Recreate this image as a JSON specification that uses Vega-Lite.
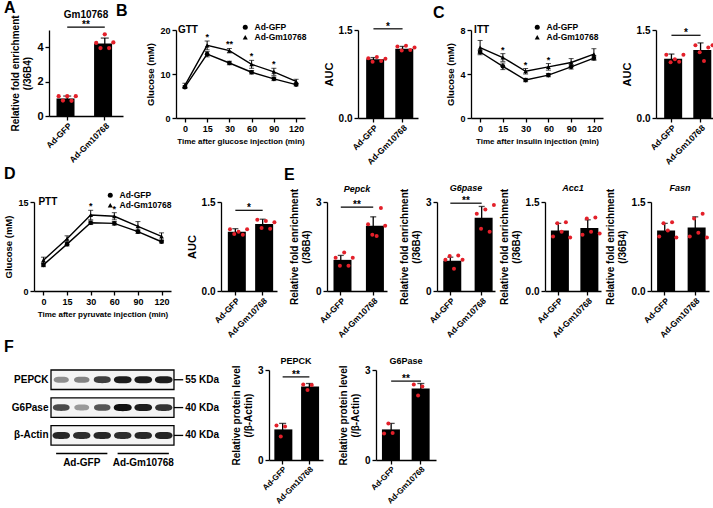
{
"$schema":"https://vega.github.io/schema/vega-lite/v6.json",
"padding":{"left":3,"top":0,"right":0,"bottom":0},
"background":"white",
"config":{
 "font":"Liberation Sans",
 "view":{"stroke":null},
 "axis":{"grid":false,"domainColor":"#000","domainWidth":1.3,"tickColor":"#000","tickWidth":1.3,"tickSize":4,"labelColor":"#000","labelFontWeight":"bold","labelFontSize":10,"labelPadding":2,"titleColor":"#000","titleFontWeight":"bold","titleFontSize":10,"titlePadding":4},
 "title":{"fontSize":16,"fontWeight":"bold","color":"#000","anchor":"start","frame":"group"},
 "legend":{"labelFontWeight":"bold","labelColor":"#000","labelFontSize":8.5}
},
"columns":1,
"align":"none",
"spacing":0,
"resolve":{"scale":{"shape":"independent","size":"independent"},"legend":{"shape":"independent","size":"independent"}},
"concat":[
{"bounds":"flush","spacing":0,
 "resolve":{"scale":{"shape":"independent"},"legend":{"shape":"independent"}},
 "hconcat":[
 {"width":15,"height":1,"data":{"values":[{}]},"mark":{"type":"text","text":""}},
 {"bounds":"flush","spacing":53,
 "resolve":{"scale":{"shape":"independent"},"legend":{"shape":"independent"}},
 "hconcat":[
 {"width":74,"height":86,"title":{"text":"A","dx":-45,"offset":-6},
  "layer":[
   {"data":{"values":[{"g":"Ad-GFP","m":1.02,"lo":0.88,"hi":1.16},{"g":"Ad-Gm10768","m":4.22,"lo":3.91,"hi":4.53}]},
    "encoding":{"x":{"field":"g","type":"nominal","scale":{"domain":["Ad-GFP","Ad-Gm10768"],"paddingInner":0.43,"paddingOuter":0.2},"axis":{"title":null,"labelAngle":-45,"labelAlign":"right","labelBaseline":"top","labelFontSize":8.5,"labelPadding":1}},
     "y":{"field":"m","type":"quantitative","scale":{"domain":[0,5],"nice":false},"axis":{"title":["Relative fold enrichment","(/36B4)"],"values":[0,1,2,3,4,5],"labelFontSize":11}}},
    "layer":[{"mark":{"type":"bar","color":"#000"}},
     {"mark":{"type":"errorbar","ticks":{"size":8},"thickness":1.3,"color":"#000"},"encoding":{"y":{"field":"lo","type":"quantitative"},"y2":{"field":"hi"}}}]},
   {"data":{"values":[{"g":"Ad-GFP","r":"1","v":1.15},{"g":"Ad-GFP","r":"2","v":0.9},{"g":"Ad-GFP","r":"3","v":1.15},{"g":"Ad-GFP","r":"4","v":0.88},{"g":"Ad-GFP","r":"5","v":1.15},{"g":"Ad-Gm10768","r":"1","v":4.25},{"g":"Ad-Gm10768","r":"2","v":3.95},{"g":"Ad-Gm10768","r":"3","v":4.75},{"g":"Ad-Gm10768","r":"4","v":3.95},{"g":"Ad-Gm10768","r":"5","v":4.28}]},
    "mark":{"type":"circle","color":"#e3202a","size":18,"opacity":1},
    "encoding":{"x":{"field":"g","type":"nominal"},"xOffset":{"field":"r","type":"nominal"},"y":{"field":"v","type":"quantitative"}}},
   {"data":{"values":[{}]},"mark":{"type":"rule","strokeWidth":1.2},"encoding":{"x":{"datum":"Ad-GFP"},"x2":{"datum":"Ad-Gm10768"},"y":{"datum":5.17}}},
   {"data":{"values":[{}]},"mark":{"type":"text","text":"**","baseline":"alphabetic","dy":1,"fontSize":10,"fontWeight":"bold"},"encoding":{"y":{"datum":5.17}}},
   {"data":{"values":[{}]},"mark":{"type":"text","text":"Gm10768","baseline":"middle","fontSize":10,"fontWeight":"bold"},"encoding":{"y":{"datum":5.85}}}
  ]},
 {"width":129,"height":88,"title":{"text":"B","dx":-60,"offset":4},
  "data":{"values":[
   {"t":0,"g":"Ad-GFP","m":7.0,"lo":6.7,"hi":7.3},{"t":15,"g":"Ad-GFP","m":14.5,"lo":13.9,"hi":15.1},{"t":30,"g":"Ad-GFP","m":12.5,"lo":12.1,"hi":12.9},{"t":60,"g":"Ad-GFP","m":10.4,"lo":10.0,"hi":10.8},{"t":90,"g":"Ad-GFP","m":8.9,"lo":8.5,"hi":9.3},{"t":120,"g":"Ad-GFP","m":7.6,"lo":7.3,"hi":7.9},
   {"t":0,"g":"Ad-Gm10768","m":7.4,"lo":6.9,"hi":7.9},{"t":15,"g":"Ad-Gm10768","m":16.5,"lo":15.5,"hi":17.5,"s":"*"},{"t":30,"g":"Ad-Gm10768","m":15.3,"lo":14.8,"hi":15.8,"s":"**"},{"t":60,"g":"Ad-Gm10768","m":12.2,"lo":11.3,"hi":13.1,"s":"*"},{"t":90,"g":"Ad-Gm10768","m":10.5,"lo":9.7,"hi":11.3,"s":"*"},{"t":120,"g":"Ad-Gm10768","m":8.3,"lo":7.8,"hi":8.8}]},
  "encoding":{"x":{"field":"t","type":"ordinal","scale":{"type":"point","padding":0.4},"axis":{"title":"Time after glucose injection (min)","labelAngle":0,"labelFontSize":9,"titleFontSize":8}}},
  "layer":[
   {"mark":{"type":"errorbar","ticks":{"size":5},"thickness":1,"color":"#000"},"encoding":{"y":{"field":"lo","type":"quantitative","scale":{"domain":[0,20],"nice":false},"axis":{"title":"Glucose (mM)","values":[0,5,10,15,20],"labelFontSize":9,"titleFontSize":9.5}},"y2":{"field":"hi"}}},
   {"mark":{"type":"line","color":"#000","strokeWidth":1.4},"encoding":{"y":{"field":"m","type":"quantitative"},"detail":{"field":"g"}}},
   {"mark":{"type":"point","filled":true,"color":"#000","size":22,"opacity":1},"encoding":{"y":{"field":"m","type":"quantitative"},"shape":{"field":"g","type":"nominal","scale":{"domain":["Ad-GFP","Ad-Gm10768"],"range":["circle","triangle-up"]},"legend":{"title":null,"orient":"none","legendX":65,"legendY":-7,"symbolSize":25,"rowPadding":-2,"padding":0,"labelOffset":5,"symbolFillColor":"#000","symbolStrokeColor":"#000"}}}},
   {"transform":[{"filter":"datum.s"}],"mark":{"type":"text","baseline":"alphabetic","fontWeight":"bold","fontSize":9,"dy":-1},"encoding":{"y":{"field":"hi","type":"quantitative"},"text":{"field":"s"}}},
   {"data":{"values":[{}]},"mark":{"type":"text","text":"GTT","align":"left","dx":-7,"baseline":"middle","fontWeight":"bold","fontSize":10},"encoding":{"x":{"datum":0,"type":"ordinal"},"y":{"datum":20,"type":"quantitative"}}}
  ]},
 {"width":60,"height":88,
  "layer":[
   {"data":{"values":[{"g":"Ad-GFP","m":1.0,"lo":0.97,"hi":1.03},{"g":"Ad-Gm10768","m":1.18,"lo":1.14,"hi":1.22}]},
    "encoding":{"x":{"field":"g","type":"nominal","scale":{"domain":["Ad-GFP","Ad-Gm10768"],"paddingInner":0.5,"paddingOuter":0.28},"axis":{"title":null,"labelAngle":-45,"labelAlign":"right","labelBaseline":"top","labelFontSize":8.5,"labelPadding":1}},
     "y":{"field":"m","type":"quantitative","scale":{"domain":[0,1.5],"nice":false},"axis":{"title":"AUC","values":[0,0.5,1,1.5],"format":".1f","titleFontSize":11}}},
    "layer":[{"mark":{"type":"bar","color":"#000"}},
     {"mark":{"type":"errorbar","ticks":{"size":6},"thickness":1.3,"color":"#000"},"encoding":{"y":{"field":"lo","type":"quantitative"},"y2":{"field":"hi"}}}]},
   {"data":{"values":[{"g":"Ad-GFP","r":"1","v":1.02},{"g":"Ad-GFP","r":"2","v":0.96},{"g":"Ad-GFP","r":"3","v":1.04},{"g":"Ad-GFP","r":"4","v":0.97},{"g":"Ad-GFP","r":"5","v":1.01},{"g":"Ad-Gm10768","r":"1","v":1.22},{"g":"Ad-Gm10768","r":"2","v":1.15},{"g":"Ad-Gm10768","r":"3","v":1.23},{"g":"Ad-Gm10768","r":"4","v":1.16},{"g":"Ad-Gm10768","r":"5","v":1.2}]},
    "mark":{"type":"circle","color":"#e3202a","size":16,"opacity":1},
    "encoding":{"x":{"field":"g","type":"nominal"},"xOffset":{"field":"r","type":"nominal"},"y":{"field":"v","type":"quantitative"}}},
   {"data":{"values":[{}]},"mark":{"type":"rule","strokeWidth":1.2},"encoding":{"x":{"datum":"Ad-GFP"},"x2":{"datum":"Ad-Gm10768"},"y":{"datum":1.52}}},
   {"data":{"values":[{}]},"mark":{"type":"text","text":"*","baseline":"alphabetic","dy":1,"fontSize":10,"fontWeight":"bold"},"encoding":{"y":{"datum":1.52}}}
  ]},
 {"width":132,"height":88,"title":{"text":"C","dx":-38,"offset":2},
  "data":{"values":[
   {"t":0,"g":"Ad-GFP","m":6.0,"lo":5.85,"hi":6.15},{"t":15,"g":"Ad-GFP","m":4.7,"lo":4.4,"hi":5.0},{"t":30,"g":"Ad-GFP","m":3.45,"lo":3.3,"hi":3.6},{"t":60,"g":"Ad-GFP","m":3.9,"lo":3.75,"hi":4.05},{"t":90,"g":"Ad-GFP","m":4.65,"lo":4.45,"hi":4.85},{"t":120,"g":"Ad-GFP","m":5.45,"lo":5.25,"hi":5.65},
   {"t":0,"g":"Ad-Gm10768","m":6.4,"lo":5.75,"hi":7.05},{"t":15,"g":"Ad-Gm10768","m":5.5,"lo":5.15,"hi":5.85,"s":"*"},{"t":30,"g":"Ad-Gm10768","m":4.25,"lo":4.0,"hi":4.5,"s":"*"},{"t":60,"g":"Ad-Gm10768","m":4.65,"lo":4.35,"hi":4.95,"s":"*"},{"t":90,"g":"Ad-Gm10768","m":5.05,"lo":4.7,"hi":5.4},{"t":120,"g":"Ad-Gm10768","m":5.8,"lo":5.3,"hi":6.3}]},
  "encoding":{"x":{"field":"t","type":"ordinal","scale":{"type":"point","padding":0.4},"axis":{"title":"Time after insulin injection (min)","labelAngle":0,"labelFontSize":9,"titleFontSize":8}}},
  "layer":[
   {"mark":{"type":"errorbar","ticks":{"size":5},"thickness":1,"color":"#000"},"encoding":{"y":{"field":"lo","type":"quantitative","scale":{"domain":[0,8],"nice":false},"axis":{"title":"Glucose (mM)","values":[0,2,4,6,8],"labelFontSize":9,"titleFontSize":9.5}},"y2":{"field":"hi"}}},
   {"mark":{"type":"line","color":"#000","strokeWidth":1.4},"encoding":{"y":{"field":"m","type":"quantitative"},"detail":{"field":"g"}}},
   {"mark":{"type":"point","filled":true,"color":"#000","size":22,"opacity":1},"encoding":{"y":{"field":"m","type":"quantitative"},"shape":{"field":"g","type":"nominal","scale":{"domain":["Ad-GFP","Ad-Gm10768"],"range":["circle","triangle-up"]},"legend":{"title":null,"orient":"none","legendX":62,"legendY":-7,"symbolSize":25,"rowPadding":-2,"padding":0,"labelOffset":5,"symbolFillColor":"#000","symbolStrokeColor":"#000"}}}},
   {"transform":[{"filter":"datum.s"}],"mark":{"type":"text","baseline":"alphabetic","fontWeight":"bold","fontSize":9,"dy":-1},"encoding":{"y":{"field":"hi","type":"quantitative"},"text":{"field":"s"}}},
   {"data":{"values":[{}]},"mark":{"type":"text","text":"ITT","align":"left","dx":-6,"baseline":"middle","fontWeight":"bold","fontSize":10},"encoding":{"x":{"datum":0,"type":"ordinal"},"y":{"datum":8,"type":"quantitative"}}}
  ]},
 {"width":60,"height":88,
  "layer":[
   {"data":{"values":[{"g":"Ad-GFP","m":1.01,"lo":0.93,"hi":1.09},{"g":"Ad-Gm10768","m":1.16,"lo":1.04,"hi":1.28}]},
    "encoding":{"x":{"field":"g","type":"nominal","scale":{"domain":["Ad-GFP","Ad-Gm10768"],"paddingInner":0.5,"paddingOuter":0.28},"axis":{"title":null,"labelAngle":-45,"labelAlign":"right","labelBaseline":"top","labelFontSize":8.5,"labelPadding":1}},
     "y":{"field":"m","type":"quantitative","scale":{"domain":[0,1.5],"nice":false},"axis":{"title":"AUC","values":[0,0.5,1,1.5],"format":".1f","titleFontSize":11}}},
    "layer":[{"mark":{"type":"bar","color":"#000"}},
     {"mark":{"type":"errorbar","ticks":{"size":6},"thickness":1.3,"color":"#000"},"encoding":{"y":{"field":"lo","type":"quantitative"},"y2":{"field":"hi"}}}]},
   {"data":{"values":[{"g":"Ad-GFP","r":"1","v":1.08},{"g":"Ad-GFP","r":"2","v":0.95},{"g":"Ad-GFP","r":"3","v":1.0},{"g":"Ad-GFP","r":"4","v":0.96},{"g":"Ad-GFP","r":"5","v":1.08},{"g":"Ad-Gm10768","r":"1","v":1.24},{"g":"Ad-Gm10768","r":"2","v":1.12},{"g":"Ad-Gm10768","r":"3","v":0.97},{"g":"Ad-Gm10768","r":"4","v":1.2},{"g":"Ad-Gm10768","r":"5","v":1.24}]},
    "mark":{"type":"circle","color":"#e3202a","size":16,"opacity":1},
    "encoding":{"x":{"field":"g","type":"nominal"},"xOffset":{"field":"r","type":"nominal"},"y":{"field":"v","type":"quantitative"}}},
   {"data":{"values":[{}]},"mark":{"type":"rule","strokeWidth":1.2},"encoding":{"x":{"datum":"Ad-GFP"},"x2":{"datum":"Ad-Gm10768"},"y":{"datum":1.41}}},
   {"data":{"values":[{}]},"mark":{"type":"text","text":"*","baseline":"alphabetic","dy":1,"fontSize":10,"fontWeight":"bold"},"encoding":{"y":{"datum":1.41}}}
  ]}
]}]},
{"bounds":"flush","spacing":50,
 "resolve":{"scale":{"shape":"independent"},"legend":{"shape":"independent"}},
 "hconcat":[
 {"width":137,"height":89,"title":{"text":"D","dx":-30,"offset":9},
  "data":{"values":[
   {"t":0,"g":"Ad-GFP","m":4.4,"lo":4.1,"hi":4.7},{"t":15,"g":"Ad-GFP","m":7.9,"lo":7.6,"hi":8.2},{"t":30,"g":"Ad-GFP","m":11.5,"lo":11.2,"hi":11.8},{"t":60,"g":"Ad-GFP","m":11.4,"lo":11.1,"hi":11.7},{"t":90,"g":"Ad-GFP","m":10.0,"lo":9.7,"hi":10.3},{"t":120,"g":"Ad-GFP","m":8.3,"lo":8.1,"hi":8.5},
   {"t":0,"g":"Ad-Gm10768","m":5.2,"lo":4.7,"hi":5.7},{"t":15,"g":"Ad-Gm10768","m":8.8,"lo":8.3,"hi":9.3},{"t":30,"g":"Ad-Gm10768","m":12.8,"lo":12.0,"hi":13.6,"s":"*"},{"t":60,"g":"Ad-Gm10768","m":12.6,"lo":12.0,"hi":13.2,"s":"*"},{"t":90,"g":"Ad-Gm10768","m":10.9,"lo":10.1,"hi":11.7},{"t":120,"g":"Ad-Gm10768","m":9.2,"lo":8.6,"hi":9.8}]},
  "encoding":{"x":{"field":"t","type":"ordinal","scale":{"type":"point","padding":0.4},"axis":{"title":"Time after pyruvate injection (min)","labelAngle":0,"labelFontSize":9,"titleFontSize":8}}},
  "layer":[
   {"mark":{"type":"errorbar","ticks":{"size":5},"thickness":1,"color":"#000"},"encoding":{"y":{"field":"lo","type":"quantitative","scale":{"domain":[0,15],"nice":false},"axis":{"title":"Glucose (mM)","values":[0,5,10,15],"labelFontSize":9,"titleFontSize":9.5}},"y2":{"field":"hi"}}},
   {"mark":{"type":"line","color":"#000","strokeWidth":1.4},"encoding":{"y":{"field":"m","type":"quantitative"},"detail":{"field":"g"}}},
   {"mark":{"type":"point","filled":true,"color":"#000","size":22,"opacity":1},"encoding":{"y":{"field":"m","type":"quantitative"},"shape":{"field":"g","type":"nominal","scale":{"domain":["Ad-GFP","Ad-Gm10768"],"range":["circle","triangle-up"]},"legend":{"title":null,"orient":"none","legendX":72,"legendY":-11,"symbolSize":25,"rowPadding":-2,"padding":0,"labelOffset":5,"symbolFillColor":"#000","symbolStrokeColor":"#000"}}}},
   {"transform":[{"filter":"datum.s"}],"mark":{"type":"text","baseline":"alphabetic","fontWeight":"bold","fontSize":9,"dy":-1},"encoding":{"y":{"field":"hi","type":"quantitative"},"text":{"field":"s"}}},
   {"data":{"values":[{}]},"mark":{"type":"text","text":"PTT","align":"left","dx":-5,"baseline":"middle","fontWeight":"bold","fontSize":10},"encoding":{"x":{"datum":0,"type":"ordinal"},"y":{"datum":15,"type":"quantitative"}}}
  ]},
 {"width":56,"height":89,
  "layer":[
   {"data":{"values":[{"g":"Ad-GFP","m":1.0,"lo":0.95,"hi":1.05},{"g":"Ad-Gm10768","m":1.13,"lo":1.05,"hi":1.21}]},
    "encoding":{"x":{"field":"g","type":"nominal","scale":{"domain":["Ad-GFP","Ad-Gm10768"],"paddingInner":0.45,"paddingOuter":0.25},"axis":{"title":null,"labelAngle":-45,"labelAlign":"right","labelBaseline":"top","labelFontSize":8.5,"labelPadding":1}},
     "y":{"field":"m","type":"quantitative","scale":{"domain":[0,1.5],"nice":false},"axis":{"title":"AUC","values":[0,0.5,1,1.5],"format":".1f","titleFontSize":11}}},
    "layer":[{"mark":{"type":"bar","color":"#000"}},
     {"mark":{"type":"errorbar","ticks":{"size":6},"thickness":1.3,"color":"#000"},"encoding":{"y":{"field":"lo","type":"quantitative"},"y2":{"field":"hi"}}}]},
   {"data":{"values":[{"g":"Ad-GFP","r":"1","v":1.04},{"g":"Ad-GFP","r":"2","v":0.96},{"g":"Ad-GFP","r":"3","v":1.0},{"g":"Ad-GFP","r":"4","v":0.95},{"g":"Ad-GFP","r":"5","v":1.04},{"g":"Ad-Gm10768","r":"1","v":1.2},{"g":"Ad-Gm10768","r":"2","v":1.06},{"g":"Ad-Gm10768","r":"3","v":1.18},{"g":"Ad-Gm10768","r":"4","v":1.05},{"g":"Ad-Gm10768","r":"5","v":1.16}]},
    "mark":{"type":"circle","color":"#e3202a","size":16,"opacity":1},
    "encoding":{"x":{"field":"g","type":"nominal"},"xOffset":{"field":"r","type":"nominal"},"y":{"field":"v","type":"quantitative"}}},
   {"data":{"values":[{}]},"mark":{"type":"rule","strokeWidth":1.2},"encoding":{"x":{"datum":"Ad-GFP"},"x2":{"datum":"Ad-Gm10768"},"y":{"datum":1.36}}},
   {"data":{"values":[{}]},"mark":{"type":"text","text":"*","baseline":"alphabetic","dy":1,"fontSize":10,"fontWeight":"bold"},"encoding":{"y":{"datum":1.36}}}
  ]},
 {"width":60,"height":89,"title":{"text":"E","dx":-43,"offset":2},
  "layer":[
   {"data":{"values":[{"g":"Ad-GFP","m":1.05,"lo":0.9,"hi":1.2},{"g":"Ad-Gm10768","m":2.2,"lo":1.9,"hi":2.5}]},
    "encoding":{"x":{"field":"g","type":"nominal","scale":{"domain":["Ad-GFP","Ad-Gm10768"],"paddingInner":0.55,"paddingOuter":0.2},"axis":{"title":null,"labelAngle":-45,"labelAlign":"right","labelBaseline":"top","labelFontSize":8.5,"labelPadding":1}},
     "y":{"field":"m","type":"quantitative","scale":{"domain":[0,3],"nice":false},"axis":{"title":["Relative fold enrichment","(/36B4)"],"values":[0,1,2,3]}}},
    "layer":[{"mark":{"type":"bar","color":"#000"}},
     {"mark":{"type":"errorbar","ticks":{"size":6},"thickness":1.3,"color":"#000"},"encoding":{"y":{"field":"lo","type":"quantitative"},"y2":{"field":"hi"}}}]},
   {"data":{"values":[{"g":"Ad-GFP","r":"1","v":1.12},{"g":"Ad-GFP","r":"2","v":0.85},{"g":"Ad-GFP","r":"3","v":1.3},{"g":"Ad-GFP","r":"4","v":0.85},{"g":"Ad-GFP","r":"5","v":1.12},{"g":"Ad-Gm10768","r":"1","v":2.25},{"g":"Ad-Gm10768","r":"2","v":1.9},{"g":"Ad-Gm10768","r":"3","v":1.85},{"g":"Ad-Gm10768","r":"4","v":2.8},{"g":"Ad-Gm10768","r":"5","v":2.2}]},
    "mark":{"type":"circle","color":"#e3202a","size":16,"opacity":1},
    "encoding":{"x":{"field":"g","type":"nominal"},"xOffset":{"field":"r","type":"nominal"},"y":{"field":"v","type":"quantitative"}}},
   {"data":{"values":[{}]},"mark":{"type":"rule","strokeWidth":1.2},"encoding":{"x":{"datum":"Ad-GFP"},"x2":{"datum":"Ad-Gm10768"},"y":{"datum":2.83}}},
   {"data":{"values":[{}]},"mark":{"type":"text","text":"**","baseline":"alphabetic","dy":1,"fontSize":10,"fontWeight":"bold"},"encoding":{"y":{"datum":2.83}}},
   {"data":{"values":[{}]},"mark":{"type":"text","text":"Pepck","baseline":"middle","fontSize":9,"fontWeight":"bold","fontStyle":"italic"},"encoding":{"y":{"datum":3.43}}}
  ]},
 {"width":58,"height":89,"title":{"text":"G6pase","anchor":"middle","fontSize":9,"fontStyle":"italic","offset":-5},
  "layer":[
   {"data":{"values":[{"g":"Ad-GFP","m":1.02,"lo":0.9,"hi":1.14},{"g":"Ad-Gm10768","m":2.47,"lo":2.1,"hi":2.85}]},
    "encoding":{"x":{"field":"g","type":"nominal","scale":{"domain":["Ad-GFP","Ad-Gm10768"],"paddingInner":0.55,"paddingOuter":0.2},"axis":{"title":null,"labelAngle":-45,"labelAlign":"right","labelBaseline":"top","labelFontSize":8.5,"labelPadding":1}},
     "y":{"field":"m","type":"quantitative","scale":{"domain":[0,3],"nice":false},"axis":{"title":["Relative fold enrichment","(/36B4)"],"values":[0,1,2,3]}}},
    "layer":[{"mark":{"type":"bar","color":"#000"}},
     {"mark":{"type":"errorbar","ticks":{"size":6},"thickness":1.3,"color":"#000"},"encoding":{"y":{"field":"lo","type":"quantitative"},"y2":{"field":"hi"}}}]},
   {"data":{"values":[{"g":"Ad-GFP","r":"1","v":1.05},{"g":"Ad-GFP","r":"2","v":1.18},{"g":"Ad-GFP","r":"3","v":0.75},{"g":"Ad-GFP","r":"4","v":1.2},{"g":"Ad-GFP","r":"5","v":1.05},{"g":"Ad-Gm10768","r":"1","v":2.6},{"g":"Ad-Gm10768","r":"2","v":2.1},{"g":"Ad-Gm10768","r":"3","v":2.75},{"g":"Ad-Gm10768","r":"4","v":2.0},{"g":"Ad-Gm10768","r":"5","v":2.9}]},
    "mark":{"type":"circle","color":"#e3202a","size":16,"opacity":1},
    "encoding":{"x":{"field":"g","type":"nominal"},"xOffset":{"field":"r","type":"nominal"},"y":{"field":"v","type":"quantitative"}}},
   {"data":{"values":[{}]},"mark":{"type":"rule","strokeWidth":1.2},"encoding":{"x":{"datum":"Ad-GFP"},"x2":{"datum":"Ad-Gm10768"},"y":{"datum":2.96}}},
   {"data":{"values":[{}]},"mark":{"type":"text","text":"**","baseline":"alphabetic","dy":1,"fontSize":10,"fontWeight":"bold"},"encoding":{"y":{"datum":2.96}}}
  ]},
 {"width":56,"height":89,"title":{"text":"Acc1","anchor":"middle","fontSize":9,"fontStyle":"italic","offset":-5},
  "layer":[
   {"data":{"values":[{"g":"Ad-GFP","m":1.02,"lo":0.9,"hi":1.14},{"g":"Ad-Gm10768","m":1.06,"lo":0.92,"hi":1.2}]},
    "encoding":{"x":{"field":"g","type":"nominal","scale":{"domain":["Ad-GFP","Ad-Gm10768"],"paddingInner":0.5,"paddingOuter":0.2},"axis":{"title":null,"labelAngle":-45,"labelAlign":"right","labelBaseline":"top","labelFontSize":8.5,"labelPadding":1}},
     "y":{"field":"m","type":"quantitative","scale":{"domain":[0,1.5],"nice":false},"axis":{"title":["Relative fold enrichment","(/36B4)"],"values":[0,0.5,1,1.5],"format":".1f"}}},
    "layer":[{"mark":{"type":"bar","color":"#000"}},
     {"mark":{"type":"errorbar","ticks":{"size":6},"thickness":1.3,"color":"#000"},"encoding":{"y":{"field":"lo","type":"quantitative"},"y2":{"field":"hi"}}}]},
   {"data":{"values":[{"g":"Ad-GFP","r":"1","v":0.92},{"g":"Ad-GFP","r":"2","v":1.14},{"g":"Ad-GFP","r":"3","v":1.0},{"g":"Ad-GFP","r":"4","v":1.16},{"g":"Ad-GFP","r":"5","v":0.9},{"g":"Ad-Gm10768","r":"1","v":0.95},{"g":"Ad-Gm10768","r":"2","v":1.22},{"g":"Ad-Gm10768","r":"3","v":1.0},{"g":"Ad-Gm10768","r":"4","v":1.24},{"g":"Ad-Gm10768","r":"5","v":0.97}]},
    "mark":{"type":"circle","color":"#e3202a","size":16,"opacity":1},
    "encoding":{"x":{"field":"g","type":"nominal"},"xOffset":{"field":"r","type":"nominal"},"y":{"field":"v","type":"quantitative"}}}
  ]},
 {"width":58,"height":89,"title":{"text":"Fasn","anchor":"middle","fontSize":9,"fontStyle":"italic","offset":-5},
  "layer":[
   {"data":{"values":[{"g":"Ad-GFP","m":1.02,"lo":0.9,"hi":1.14},{"g":"Ad-Gm10768","m":1.07,"lo":0.89,"hi":1.25}]},
    "encoding":{"x":{"field":"g","type":"nominal","scale":{"domain":["Ad-GFP","Ad-Gm10768"],"paddingInner":0.5,"paddingOuter":0.2},"axis":{"title":null,"labelAngle":-45,"labelAlign":"right","labelBaseline":"top","labelFontSize":8.5,"labelPadding":1}},
     "y":{"field":"m","type":"quantitative","scale":{"domain":[0,1.5],"nice":false},"axis":{"title":["Relative fold enrichment","(/36B4)"],"values":[0,0.5,1,1.5],"format":".1f"}}},
    "layer":[{"mark":{"type":"bar","color":"#000"}},
     {"mark":{"type":"errorbar","ticks":{"size":6},"thickness":1.3,"color":"#000"},"encoding":{"y":{"field":"lo","type":"quantitative"},"y2":{"field":"hi"}}}]},
   {"data":{"values":[{"g":"Ad-GFP","r":"1","v":0.92},{"g":"Ad-GFP","r":"2","v":1.14},{"g":"Ad-GFP","r":"3","v":1.02},{"g":"Ad-GFP","r":"4","v":1.16},{"g":"Ad-GFP","r":"5","v":0.9},{"g":"Ad-Gm10768","r":"1","v":0.92},{"g":"Ad-Gm10768","r":"2","v":1.22},{"g":"Ad-Gm10768","r":"3","v":0.98},{"g":"Ad-Gm10768","r":"4","v":1.3},{"g":"Ad-Gm10768","r":"5","v":0.9}]},
    "mark":{"type":"circle","color":"#e3202a","size":16,"opacity":1},
    "encoding":{"x":{"field":"g","type":"nominal"},"xOffset":{"field":"r","type":"nominal"},"y":{"field":"v","type":"quantitative"}}}
  ]}
]},
{"bounds":"flush","spacing":0,
 "hconcat":[
 {"width":17,"height":1,"data":{"values":[{}]},"mark":{"type":"text","text":""}},
 {"bounds":"flush","spacing":53,
 "hconcat":[
 {"width":165,"height":103,"title":{"text":"F","dx":-47,"offset":14},
  "layer":[
   {"data":{"values":[{"p":"PEPCK","kda":"55 KDa"},{"p":"G6Pase","kda":"40 KDa"},{"p":"β-Actin","kda":"40 KDa"}]},
    "layer":[
     {"mark":{"type":"rect","fill":"#f4f4f4","stroke":"#000","strokeWidth":1.3},
      "encoding":{"y":{"field":"p","type":"nominal","scale":{"domain":["PEPCK","G6Pase","β-Actin","grp"],"paddingInner":0.3,"paddingOuter":0},"axis":{"title":null,"values":["PEPCK","G6Pase","β-Actin"],"domain":false,"ticks":false,"labelFontSize":10,"labelPadding":3}},
       "x":{"datum":0.5,"type":"quantitative","scale":{"domain":[0.5,8.55],"nice":false,"zero":false},"axis":null},"x2":{"datum":6.5}}},
     {"mark":{"type":"rule","strokeWidth":1.3},"encoding":{"y":{"field":"p","type":"nominal"},"x":{"datum":6.5,"type":"quantitative","axis":null},"x2":{"datum":6.95}}},
     {"mark":{"type":"text","align":"left","baseline":"middle","fontWeight":"bold","fontSize":10,"dx":2},"encoding":{"y":{"field":"p","type":"nominal"},"x":{"datum":6.95,"type":"quantitative","axis":null},"text":{"field":"kda"}}}
    ]},
   {"data":{"values":[
     {"p":"PEPCK","lane":1,"i":0.45},{"p":"PEPCK","lane":2,"i":0.5},{"p":"PEPCK","lane":3,"i":0.8},{"p":"PEPCK","lane":4,"i":0.95},{"p":"PEPCK","lane":5,"i":0.95},{"p":"PEPCK","lane":6,"i":0.95},
     {"p":"G6Pase","lane":1,"i":0.75},{"p":"G6Pase","lane":2,"i":0.4},{"p":"G6Pase","lane":3,"i":0.7},{"p":"G6Pase","lane":4,"i":1.0},{"p":"G6Pase","lane":5,"i":0.95},{"p":"G6Pase","lane":6,"i":0.85},
     {"p":"β-Actin","lane":1,"i":0.9},{"p":"β-Actin","lane":2,"i":0.88},{"p":"β-Actin","lane":3,"i":0.9},{"p":"β-Actin","lane":4,"i":0.88},{"p":"β-Actin","lane":5,"i":0.9},{"p":"β-Actin","lane":6,"i":0.92}]},
    "mark":{"type":"point","shape":"M-1,0C-1,-0.35,-0.6,-0.4,0,-0.4C0.6,-0.4,1,-0.35,1,0C1,0.35,0.6,0.4,0,0.4C-0.6,0.4,-1,0.35,-1,0Z","filled":true,"color":"#111","strokeWidth":0},
    "encoding":{"x":{"field":"lane","type":"quantitative","axis":null},"y":{"field":"p","type":"nominal"},"opacity":{"field":"i","type":"quantitative","scale":null},"size":{"field":"i","type":"quantitative","scale":{"domain":[0.4,1],"range":[220,320]},"legend":null}}},
   {"data":{"values":[{"grp":"Ad-GFP","a":0.75,"b":3.25,"c":2},{"grp":"Ad-Gm10768","a":3.75,"b":6.25,"c":5}]},
    "layer":[
     {"mark":{"type":"rule","strokeWidth":1.3},"encoding":{"x":{"field":"a","type":"quantitative","axis":null},"x2":{"field":"b"},"y":{"datum":"grp","type":"nominal","bandPosition":0}}},
     {"mark":{"type":"text","fontWeight":"bold","fontSize":10,"baseline":"middle"},"encoding":{"x":{"field":"c","type":"quantitative","axis":null},"y":{"datum":"grp","type":"nominal"},"text":{"field":"grp"}}}
    ]}
  ]},
 {"width":54,"height":90,"title":{"text":"PEPCK","anchor":"middle","fontSize":9,"offset":-1},
  "layer":[
   {"data":{"values":[{"g":"Ad-GFP","m":1.02,"lo":0.82,"hi":1.22},{"g":"Ad-Gm10768","m":2.45,"lo":2.35,"hi":2.55}]},
    "encoding":{"x":{"field":"g","type":"nominal","scale":{"domain":["Ad-GFP","Ad-Gm10768"],"paddingInner":0.38,"paddingOuter":0.2},"axis":{"title":null,"labelAngle":-45,"labelAlign":"right","labelBaseline":"top","labelFontSize":8,"labelPadding":1}},
     "y":{"field":"m","type":"quantitative","scale":{"domain":[0,3],"nice":false},"axis":{"title":["Relative protein level","(/β-Actin)"],"values":[0,1,2,3]}}},
    "layer":[{"mark":{"type":"bar","color":"#000"}},
     {"mark":{"type":"errorbar","ticks":{"size":7},"thickness":1.3,"color":"#000"},"encoding":{"y":{"field":"lo","type":"quantitative"},"y2":{"field":"hi"}}}]},
   {"data":{"values":[{"g":"Ad-GFP","r":"1","v":1.15},{"g":"Ad-GFP","r":"2","v":0.78},{"g":"Ad-GFP","r":"3","v":1.12},{"g":"Ad-Gm10768","r":"1","v":2.52},{"g":"Ad-Gm10768","r":"2","v":2.33},{"g":"Ad-Gm10768","r":"3","v":2.5}]},
    "mark":{"type":"circle","color":"#e3202a","size":16,"opacity":1},
    "encoding":{"x":{"field":"g","type":"nominal"},"xOffset":{"field":"r","type":"nominal"},"y":{"field":"v","type":"quantitative"}}},
   {"data":{"values":[{}]},"mark":{"type":"rule","strokeWidth":1.2},"encoding":{"x":{"datum":"Ad-GFP"},"x2":{"datum":"Ad-Gm10768"},"y":{"datum":2.77}}},
   {"data":{"values":[{}]},"mark":{"type":"text","text":"**","baseline":"alphabetic","dy":1,"fontSize":10,"fontWeight":"bold"},"encoding":{"y":{"datum":2.77}}}
  ]},
 {"width":60,"height":90,"title":{"text":"G6Pase","anchor":"middle","fontSize":9,"offset":-1},
  "layer":[
   {"data":{"values":[{"g":"Ad-GFP","m":1.02,"lo":0.82,"hi":1.22},{"g":"Ad-Gm10768","m":2.38,"lo":2.21,"hi":2.55}]},
    "encoding":{"x":{"field":"g","type":"nominal","scale":{"domain":["Ad-GFP","Ad-Gm10768"],"paddingInner":0.38,"paddingOuter":0.2},"axis":{"title":null,"labelAngle":-45,"labelAlign":"right","labelBaseline":"top","labelFontSize":8,"labelPadding":1}},
     "y":{"field":"m","type":"quantitative","scale":{"domain":[0,3],"nice":false},"axis":{"title":["Relative protein level","(/β-Actin)"],"values":[0,1,2,3]}}},
    "layer":[{"mark":{"type":"bar","color":"#000"}},
     {"mark":{"type":"errorbar","ticks":{"size":7},"thickness":1.3,"color":"#000"},"encoding":{"y":{"field":"lo","type":"quantitative"},"y2":{"field":"hi"}}}]},
   {"data":{"values":[{"g":"Ad-GFP","r":"1","v":0.88},{"g":"Ad-GFP","r":"2","v":1.22},{"g":"Ad-GFP","r":"3","v":0.9},{"g":"Ad-Gm10768","r":"1","v":2.52},{"g":"Ad-Gm10768","r":"2","v":2.15},{"g":"Ad-Gm10768","r":"3","v":2.45}]},
    "mark":{"type":"circle","color":"#e3202a","size":16,"opacity":1},
    "encoding":{"x":{"field":"g","type":"nominal"},"xOffset":{"field":"r","type":"nominal"},"y":{"field":"v","type":"quantitative"}}},
   {"data":{"values":[{}]},"mark":{"type":"rule","strokeWidth":1.2},"encoding":{"x":{"datum":"Ad-GFP"},"x2":{"datum":"Ad-Gm10768"},"y":{"datum":2.63}}},
   {"data":{"values":[{}]},"mark":{"type":"text","text":"**","baseline":"alphabetic","dy":1,"fontSize":10,"fontWeight":"bold"},"encoding":{"y":{"datum":2.63}}}
  ]}
]}]}
]
}
